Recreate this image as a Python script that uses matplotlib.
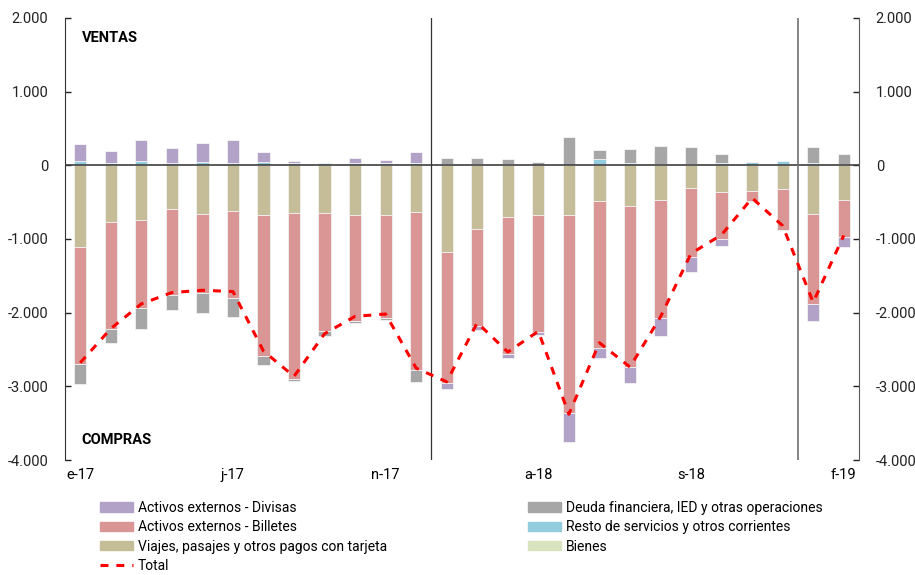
import numpy as np
import matplotlib
matplotlib.use("Agg")
import matplotlib.pyplot as plt
from matplotlib.patches import Patch
from matplotlib.lines import Line2D

plt.rcParams["font.family"] = ["Roboto", "DejaVu Sans"]

# --- data (millones de USD) ---
months = ["e-17", "f-17", "m-17", "a-17", "m-17", "j-17", "j-17", "a-17", "s-17", "o-17", "n-17", "d-17",
          "e-18", "f-18", "m-18", "a-18", "m-18", "j-18", "j-18", "a-18", "s-18", "o-18", "n-18", "d-18",
          "e-19", "f-19"]
tick_idx = [0, 5, 10, 15, 20, 25]

divisas = [230, 163, 285, 195, 254, 313, 136, 27, 0, 58, 40, 159,
           -73, -59, -55, -45, -399, -127, -222, -240, -213, -91, -10, 9, -227, -128]
billetes = [-1600, -1452, -1201, -1169, -1070, -1171, -1905, -2245, -1596, -1433, -1397, -2141,
            -1791, -1311, -1859, -1578, -2680, -2000, -2191, -1606, -925, -635, -136, -557, -1215, -498]
viajes = [-1102, -766, -739, -594, -666, -625, -680, -653, -653, -680, -680, -639,
          -1170, -866, -707, -680, -680, -485, -548, -471, -313, -367, -354, -327, -667, -476]
deuda = [-268, -199, -286, -196, -264, -267, -122, -31, -64, -32, -18, -159,
         80, 85, 72, 50, 370, 117, 186, 237, 239, 113, 0, 0, 213, 135]
resto = [60, 37, 60, 37, 50, 37, 50, 37, 27, 37, 37, 27,
         15, 15, 15, 0, 10, 87, 37, 22, 15, 37, 46, 55, 37, 15]
bienes = [0] * 26
total = [-2680, -2217, -1881, -1727, -1696, -1713, -2521, -2865, -2286, -2050, -2018, -2753,
         -2939, -2136, -2534, -2253, -3378, -2408, -2738, -2058, -1197, -943, -444, -820, -1859, -952]

colors = {"divisas": "#B3A2C7", "billetes": "#D99694", "viajes": "#C4BD97",
          "deuda": "#A6A6A6", "resto": "#93CDDD", "bienes": "#D7E4BD"}

fig = plt.figure(figsize=(9.15, 5.75), dpi=100)
ax = fig.add_axes([0.0710, 0.2, 0.8678, 0.7687])

x = np.arange(len(months))
pos = np.zeros(len(x))
neg = np.zeros(len(x))
for key, vals in [("resto", resto), ("viajes", viajes), ("billetes", billetes),
                  ("divisas", divisas), ("deuda", deuda), ("bienes", bienes)]:
    v = np.array(vals, dtype=float)
    bottom = np.where(v >= 0, pos, neg)
    ax.bar(x, v, 0.4, bottom=bottom, color=colors[key], edgecolor="#f2f2f2", linewidth=0.6, zorder=2)
    pos = pos + np.where(v > 0, v, 0)
    neg = neg + np.where(v < 0, v, 0)

ax.plot(x, total, color="#FF0000", lw=2.2, dashes=(2.6, 2.6), zorder=4)

ax.axhline(0, color="#404040", lw=1.2, zorder=3)
ax.axvline(11.5, color="#333333", lw=0.9, zorder=3)
ax.axvline(23.5, color="#707070", lw=1.2, zorder=3)

ax.set_xlim(-0.5, 25.5)
ax.set_ylim(-4000, 2000)
ax.set_yticks(np.arange(-4000, 2001, 1000))
fmt = matplotlib.ticker.FuncFormatter(lambda v, p: f"{v:,.0f}".replace(",", "."))
ax.yaxis.set_major_formatter(fmt)
ax.tick_params(axis="y", direction="in", length=4, width=1, labelsize=10.5, pad=12,
               left=True, right=True, labelleft=True, labelright=True, colors="#222222")
ax.set_xticks(tick_idx)
ax.set_xticklabels([months[i] for i in tick_idx])
ax.tick_params(axis="x", length=0, labelsize=10.5, pad=6)

for s in ["top", "bottom"]:
    ax.spines[s].set_visible(False)
ax.spines["left"].set_color("#333333")
ax.spines["right"].set_color("#595959")

ax.text(0.021, 0.955, "VENTAS", transform=ax.transAxes, fontsize=10.5, fontweight="bold", va="center")
ax.text(0.021, 0.045, "COMPRAS", transform=ax.transAxes, fontsize=10.5, fontweight="bold", va="center")

h_left = [Patch(color=colors["divisas"]), Patch(color=colors["billetes"]), Patch(color=colors["viajes"]),
          Line2D([], [], color="#FF0000", lw=2.2, dashes=(2.6, 2.6))]
l_left = ["Activos externos - Divisas", "Activos externos - Billetes",
          "Viajes, pasajes y otros pagos con tarjeta", "Total"]
h_right = [Patch(color=colors["deuda"]), Patch(color=colors["resto"]), Patch(color=colors["bienes"])]
l_right = ["Deuda financiera, IED y otras operaciones", "Resto de servicios y otros corrientes", "Bienes"]

kw = dict(frameon=False, prop={"family": "Roboto", "size": 10}, handlelength=2.4, handleheight=0.65,
          handletextpad=0.3, labelspacing=0.38, borderaxespad=0, borderpad=0)
fig.legend(h_left, l_left, loc="upper left", bbox_to_anchor=(100 / 915, 1 - 501 / 575), **kw)
fig.legend(h_right, l_right, loc="upper left", bbox_to_anchor=(528 / 915, 1 - 501 / 575), **kw)

fig.savefig("out.png", dpi=100)
